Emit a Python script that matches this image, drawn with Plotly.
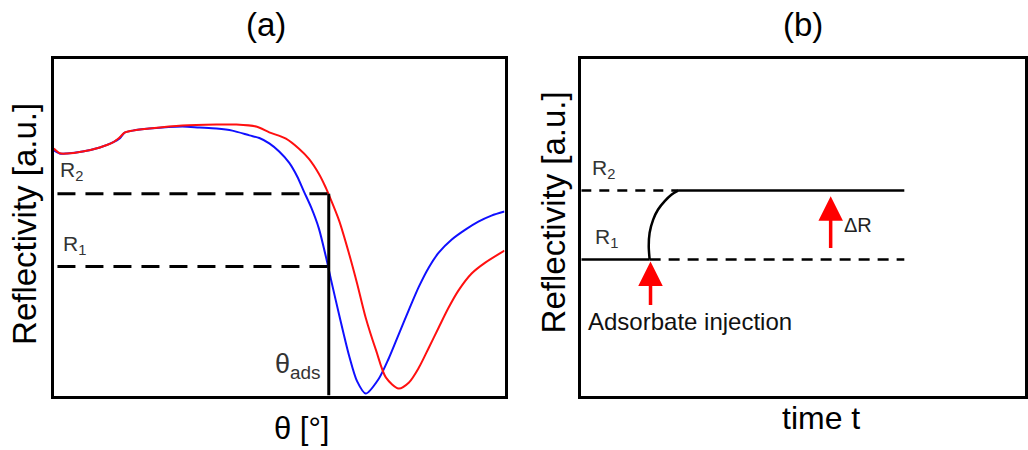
import plotly.graph_objects as go

# ---------------- data (panel a: SPR angle scans) ----------------
theta_blue = [0, 1.3, 2.9, 6.4, 10.2, 13.1, 14.6, 15.7, 17.5, 21.2,
              28.5, 32.3, 36.1, 39.6, 43.4, 45.6, 47.8, 50.0, 52.2, 54.0,
              55.5, 57.1, 58.8, 60.4, 61.7, 63.3, 65.5, 67.3, 69.2, 72.1,
              74.3, 76.5, 78.8, 81.0, 83.2, 85.4, 88.3, 91.4, 94.2, 97.1, 100]
refl_blue = [72.7, 71.8, 71.8, 72.4, 73.6, 75.1, 76.3, 78.0, 78.6, 79.2,
             79.8, 79.5, 79.2, 78.6, 77.2, 76.4, 74.8, 72.4, 69.1, 65.0,
             60.5, 55.8, 49.6, 41.0, 33.2, 24.0, 11.9, 4.2, 0.6, 5.0,
             11.0, 18.1, 25.5, 32.3, 38.0, 42.4, 46.3, 49.3, 51.6, 53.4, 54.6]

theta_red = [0, 1.3, 2.9, 6.4, 10.2, 13.1, 14.6, 15.7, 17.5, 21.2,
             28.5, 36.1, 40.5, 44.9, 47.8, 51.5, 54.4, 56.6, 58.8, 60.3,
             61.1, 63.3, 65.5, 67.3, 69.2, 71.5, 73.7, 76.5, 78.8, 81.0,
             83.2, 85.4, 87.6, 89.8, 92.7, 95.8, 100]
refl_red = [73.3, 71.9, 71.8, 72.4, 73.6, 75.1, 76.6, 78.0, 78.6, 79.2,
            80.1, 80.4, 80.4, 79.8, 78.1, 76.2, 73.2, 70.2, 65.8, 61.8,
            59.3, 51.9, 42.1, 33.2, 23.1, 13.4, 5.3, 2.1, 3.9, 8.3,
            14.2, 20.2, 26.1, 31.2, 36.2, 39.5, 43.0]

R1_a = 38.3
R2_a = 59.9
theta_ads = 61.0

# ---------------- data (panel b: time trace) ----------------
time_base = [0, 15.4]
refl_base = [40.4, 40.4]
time_rise = [15.4, 15.2, 15.4, 16.2, 17.3, 18.8, 20.3, 21.8]
refl_rise = [40.4, 44.3, 48.3, 52.2, 55.2, 57.7, 59.6, 60.8]
time_plateau = [21.8, 72.8]
refl_plateau = [60.8, 60.8]
R1_b = 40.4
R2_b = 60.8
t_injection = 15.6
t_deltaR = 56.2

FONT = "Liberation Sans, Arial, sans-serif"

fig = go.Figure()

# panel a curves
fig.add_trace(go.Scatter(x=theta_blue, y=refl_blue, mode="lines",
                         line=dict(color="#1010ff", width=2, shape="spline", smoothing=0.8),
                         xaxis="x", yaxis="y", hoverinfo="skip"))
fig.add_trace(go.Scatter(x=theta_red, y=refl_red, mode="lines",
                         line=dict(color="#ff1010", width=2, shape="spline", smoothing=0.8),
                         xaxis="x", yaxis="y", hoverinfo="skip"))
# R levels in a
for lev in (R2_a, R1_a):
    fig.add_trace(go.Scatter(x=[0.8, theta_ads], y=[lev, lev], mode="lines",
                             line=dict(color="black", width=3, dash="18px,10px"),
                             xaxis="x", yaxis="y", hoverinfo="skip"))
fig.add_trace(go.Scatter(x=[theta_ads, theta_ads], y=[0, R2_a], mode="lines",
                         line=dict(color="black", width=3),
                         xaxis="x", yaxis="y", hoverinfo="skip"))

# panel b
fig.add_trace(go.Scatter(x=[0, time_rise[-1]], y=[R2_b, R2_b], mode="lines",
                         line=dict(color="black", width=2.5, dash="10px,8px"),
                         xaxis="x2", yaxis="y2", hoverinfo="skip"))
fig.add_trace(go.Scatter(x=[time_base[-1], time_plateau[-1]], y=[R1_b, R1_b], mode="lines",
                         line=dict(color="black", width=2.5, dash="11px,8px"),
                         xaxis="x2", yaxis="y2", hoverinfo="skip"))
fig.add_trace(go.Scatter(x=time_base, y=refl_base, mode="lines",
                         line=dict(color="black", width=2.5),
                         xaxis="x2", yaxis="y2", hoverinfo="skip"))
fig.add_trace(go.Scatter(x=time_rise, y=refl_rise, mode="lines",
                         line=dict(color="black", width=2.5, shape="spline", smoothing=0.8),
                         xaxis="x2", yaxis="y2", hoverinfo="skip"))
fig.add_trace(go.Scatter(x=time_plateau, y=refl_plateau, mode="lines",
                         line=dict(color="black", width=2.5),
                         xaxis="x2", yaxis="y2", hoverinfo="skip"))

ax_common = dict(showgrid=False, zeroline=False, showticklabels=False, ticks="",
                 showline=True, linecolor="black", linewidth=3, mirror=True,
                 fixedrange=True)

ydom = [0.121, 0.870]
fig.update_layout(
    width=1028, height=450,
    margin=dict(l=0, r=0, t=0, b=0),
    paper_bgcolor="white", plot_bgcolor="white",
    showlegend=False,
    xaxis=dict(domain=[54 / 1028, 506 / 1028], range=[0, 100], **ax_common),
    yaxis=dict(domain=ydom, range=[0, 100], **ax_common),
    xaxis2=dict(domain=[583 / 1028, 1.0], range=[0, 100], anchor="y2", **ax_common),
    yaxis2=dict(domain=ydom, range=[0, 100], anchor="x2", **ax_common),
)

ann = []
C = dict(xanchor="center", yanchor="middle", showarrow=False, xref="paper", yref="paper")
# titles
ann.append(dict(text="(a)", x=267 / 1028, y=(450 - 24) / 450,
                font=dict(size=33, family=FONT, color="black"), **C))
ann.append(dict(text="(b)", x=805 / 1028, y=(450 - 24) / 450,
                font=dict(size=33, family=FONT, color="black"), **C))
# y titles
for xp, yc in ((24, 224), (555, 212)):
    ann.append(dict(text="Reflectivity [a.u.]", x=xp / 1028, y=(450 - yc) / 450,
                    textangle=-90, font=dict(size=33, family=FONT, color="black"), **C))
# x titles
ann.append(dict(text="θ [°]", x=302 / 1028, y=(450 - 428) / 450,
                font=dict(size=31, family=FONT, color="black"), **C))
ann.append(dict(text="time t", x=823 / 1028, y=(450 - 418) / 450,
                font=dict(size=32, family=FONT, color="black"), **C))

lab_font = dict(size=21, family=FONT, color="#333333")
# panel a labels
ann.append(dict(text="R<sub>2</sub>", x=1.0, y=R2_a + 2.2, xref="x", yref="y",
                xanchor="left", yanchor="bottom", showarrow=False, font=lab_font))
ann.append(dict(text="R<sub>1</sub>", x=1.6, y=R1_a + 1.8, xref="x", yref="y",
                xanchor="left", yanchor="bottom", showarrow=False, font=lab_font))
ann.append(dict(text="θ<sub>ads</sub>", x=theta_ads - 1.2, y=3, xref="x", yref="y",
                xanchor="right", yanchor="bottom", showarrow=False,
                font=dict(size=27, family=FONT, color="#333333")))
# panel b labels
ann.append(dict(text="R<sub>2</sub>", x=2.0, y=R2_b + 2.0, xref="x2", yref="y2",
                xanchor="left", yanchor="bottom", showarrow=False, font=lab_font))
ann.append(dict(text="R<sub>1</sub>", x=2.7, y=R1_b + 1.8, xref="x2", yref="y2",
                xanchor="left", yanchor="bottom", showarrow=False, font=lab_font))
ann.append(dict(text="ΔR", x=t_deltaR + 2.6, y=50.7, xref="x2", yref="y2",
                xanchor="left", yanchor="middle", showarrow=False,
                font=dict(size=20, family=FONT, color="#222222")))
ann.append(dict(text="Adsorbate injection", x=1.0, y=22, xref="x2", yref="y2",
                xanchor="left", yanchor="middle", showarrow=False,
                font=dict(size=24, family=FONT, color="#111111")))
# red arrows
ann.append(dict(x=t_injection, y=R1_b - 0.6, ax=t_injection, ay=26.4,
                xref="x2", yref="y2", axref="x2", ayref="y2", text="",
                showarrow=True, arrowhead=2, arrowsize=1.4, arrowwidth=3.5,
                arrowcolor="#ff0000", standoff=0))
ann.append(dict(x=t_deltaR, y=59.1, ax=t_deltaR, ay=43.3,
                xref="x2", yref="y2", axref="x2", ayref="y2", text="",
                showarrow=True, arrowhead=2, arrowsize=1.4, arrowwidth=3.5,
                arrowcolor="#ff0000", standoff=0))

fig.update_layout(annotations=ann)
fig.write_html("out.html")
